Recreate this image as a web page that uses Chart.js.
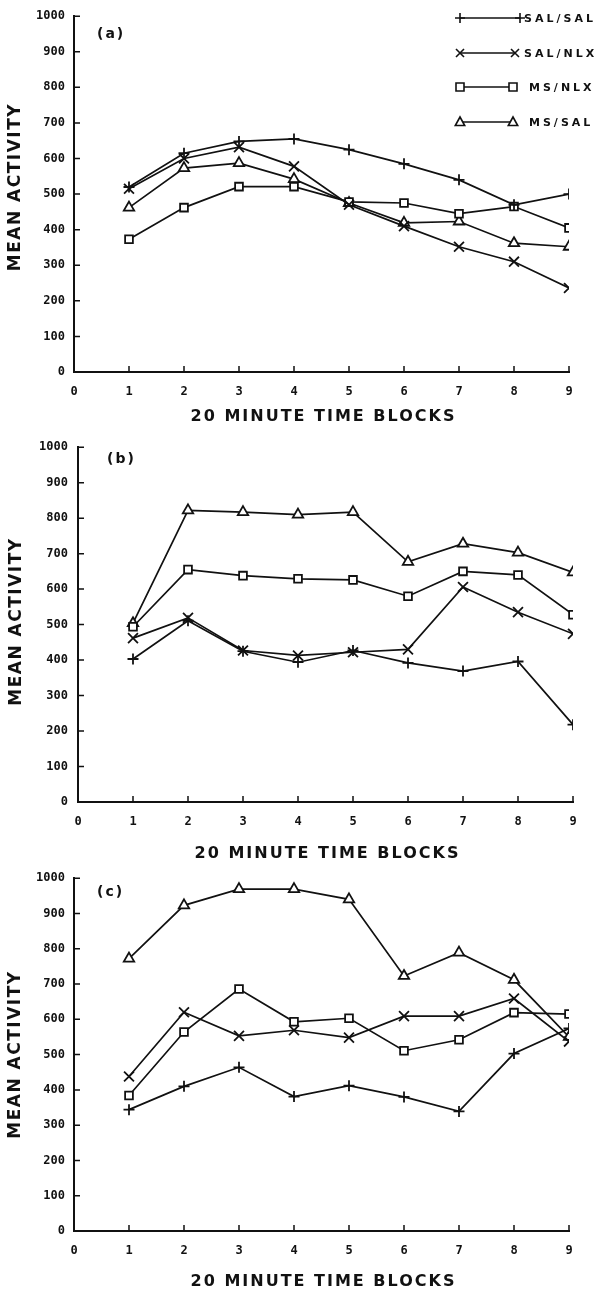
<!DOCTYPE html>
<html>
<head>
<meta charset="utf-8">
<script src="https://cdn.jsdelivr.net/npm/chart.js@4.4.1/dist/chart.umd.min.js"></script>
<style>
  body { margin: 0; background: #fff; }
  #page { position: relative; width: 601px; height: 1293px; background: #fff; }
  .panel { position: absolute; left: 0; width: 601px; }
</style>
</head>
<body>
<div id="page">
  <div class="panel" style="top:0"><canvas id="chartA" width="601" height="430"></canvas></div>
  <div class="panel" style="top:430px"><canvas id="chartB" width="601" height="432"></canvas></div>
  <div class="panel" style="top:862px"><canvas id="chartC" width="601" height="431"></canvas></div>
</div>
<script>
// categories + ticks
const blocks = [1, 2, 3, 4, 5, 6, 7, 8, 9];
const xTickValues = [0, 1, 2, 3, 4, 5, 6, 7, 8, 9];
const yTickValues = [0, 100, 200, 300, 400, 500, 600, 700, 800, 900, 1000];
const seriesNames = ["SAL/SAL", "SAL/NLX", "MS/NLX", "MS/SAL"];

// panel (a)
const aSalSal = [520, 615, 648, 655, 625, 585, 540, 470, 500];
const aSalNlx = [515, 600, 632, 578, 470, 410, 352, 310, 236];
const aMsNlx  = [373, 462, 521, 521, 478, 475, 445, 465, 405];
const aMsSal  = [462, 573, 587, 542, 475, 419, 423, 362, 352];

// panel (b)
const bSalSal = [403, 511, 425, 394, 427, 392, 369, 396, 218];
const bSalNlx = [462, 519, 427, 413, 422, 430, 606, 535, 474];
const bMsNlx  = [494, 655, 638, 629, 626, 580, 650, 640, 528];
const bMsSal  = [504, 822, 817, 810, 817, 677, 728, 703, 647];

// panel (c)
const cSalSal = [344, 410, 464, 381, 412, 380, 339, 503, 574];
const cSalNlx = [438, 620, 553, 569, 548, 609, 609, 659, 537];
const cMsNlx  = [384, 564, 686, 593, 603, 511, 542, 619, 615];
const cMsSal  = [772, 923, 969, 969, 940, 723, 789, 712, 550];

const INK = '#111';
const markerStyles = [
    { pointStyle: 'cross', radius: 5.5, fill: INK },
    { pointStyle: 'crossRot', radius: 7, fill: INK },
    { pointStyle: 'rect', radius: 5.5, fill: '#fff' },
    { pointStyle: 'triangle', radius: 6, fill: '#fff' }
];

function makeDatasets(lists) {
    return lists.map((vals, i) => ({
        label: seriesNames[i],
        data: blocks.map((b, j) => ({ x: b, y: vals[j] })),
        borderColor: INK,
        borderWidth: 1.7,
        tension: 0,
        pointStyle: markerStyles[i].pointStyle,
        pointRadius: markerStyles[i].radius,
        pointBorderWidth: 1.8,
        pointBorderColor: INK,
        pointBackgroundColor: markerStyles[i].fill
    }));
}

// small inward tick marks on both axes
const inwardTicks = {
    id: 'inwardTicks',
    beforeDatasetsDraw(chart) {
        const { ctx, chartArea, scales } = chart;
        ctx.save();
        ctx.strokeStyle = INK;
        ctx.lineWidth = 1.5;
        ctx.beginPath();
        xTickValues.forEach(v => {
            if (v === 0) return;
            const px = scales.x.getPixelForValue(v);
            ctx.moveTo(px, chartArea.bottom);
            ctx.lineTo(px, chartArea.bottom - 6);
        });
        yTickValues.forEach(v => {
            if (v === 0) return;
            const py = scales.y.getPixelForValue(v);
            ctx.moveTo(chartArea.left, py);
            ctx.lineTo(chartArea.left + 6, py);
        });
        ctx.stroke();
        ctx.restore();
    }
};

// axis titles + panel tag, drawn with letter spacing like the typewriter original
const panelText = {
    id: 'panelText',
    afterDraw(chart, args, opts) {
        const { ctx, chartArea } = chart;
        ctx.save();
        ctx.fillStyle = INK;
        ctx.textBaseline = 'middle';

        ctx.font = 'bold 16px "DejaVu Sans"';
        ctx.letterSpacing = '2px';
        ctx.textAlign = 'center';
        ctx.fillText('20 MINUTE TIME BLOCKS', (chartArea.left + chartArea.right) / 2 + 2, chartArea.bottom + opts.xTitleGap);

        ctx.save();
        ctx.font = 'bold 17px "DejaVu Sans"';
        ctx.letterSpacing = '1.5px';
        ctx.translate(opts.yTitleX, (chartArea.top + chartArea.bottom) / 2 + opts.yTitleShift);
        ctx.rotate(-Math.PI / 2);
        ctx.fillText('MEAN ACTIVITY', 0, 0);
        ctx.restore();

        ctx.font = 'bold 14px "DejaVu Sans"';
        ctx.letterSpacing = '2px';
        ctx.textAlign = 'left';
        ctx.fillText(opts.tag, opts.tagX, opts.tagY);
        ctx.restore();
    }
};

function drawMarker(ctx, style, x, y) {
    ctx.beginPath();
    if (style === 'cross') {
        ctx.moveTo(x - 5, y); ctx.lineTo(x + 5, y);
        ctx.moveTo(x, y - 5); ctx.lineTo(x, y + 5);
        ctx.stroke();
    } else if (style === 'crossRot') {
        ctx.moveTo(x - 4, y - 4); ctx.lineTo(x + 4, y + 4);
        ctx.moveTo(x - 4, y + 4); ctx.lineTo(x + 4, y - 4);
        ctx.stroke();
    } else if (style === 'rect') {
        ctx.rect(x - 4, y - 4, 8, 8);
        ctx.fill(); ctx.stroke();
    } else {
        ctx.moveTo(x, y - 5); ctx.lineTo(x + 4.7, y + 3.5); ctx.lineTo(x - 4.7, y + 3.5); ctx.closePath();
        ctx.fill(); ctx.stroke();
    }
}

// legend: line with a marker at each end, then the label
const lineLegend = {
    id: 'lineLegend',
    afterDraw(chart, args, opts) {
        if (!opts.show) return;
        const ctx = chart.ctx;
        const rows = [18, 53, 87, 122];
        const rightEnds = [520, 515, 513, 513];
        const textX = [524, 524, 529, 529];
        ctx.save();
        ctx.strokeStyle = INK;
        ctx.lineWidth = 1.6;
        seriesNames.forEach((name, i) => {
            const y = rows[i];
            ctx.fillStyle = '#fff';
            ctx.beginPath();
            ctx.moveTo(460, y); ctx.lineTo(rightEnds[i], y);
            ctx.stroke();
            drawMarker(ctx, markerStyles[i].pointStyle, 460, y);
            drawMarker(ctx, markerStyles[i].pointStyle, rightEnds[i], y);
            ctx.fillStyle = INK;
            ctx.font = 'bold 11px "DejaVu Sans"';
            ctx.letterSpacing = '3px';
            ctx.textAlign = 'left';
            ctx.textBaseline = 'middle';
            ctx.fillText(name, textX[i], y + 1);
        });
        ctx.restore();
    }
};

function buildChart(id, lists, box, text, showLegend) {
    const tickFont = { family: '"DejaVu Sans Mono"', weight: 'bold', size: 12 };
    return new Chart(document.getElementById(id), {
        type: 'line',
        data: { datasets: makeDatasets(lists) },
        options: {
            responsive: false,
            animation: false,
            layout: { padding: { top: box.top, right: box.right, left: 0, bottom: 0 } },
            plugins: {
                legend: { display: false },
                tooltip: { enabled: false },
                panelText: text,
                lineLegend: { show: showLegend }
            },
            scales: {
                x: {
                    type: 'linear',
                    min: 0, max: 9,
                    afterBuildTicks: s => { s.ticks = xTickValues.map(v => ({ value: v })); },
                    afterFit: s => { s.height = box.xHeight; },
                    grid: { display: false, drawTicks: false },
                    border: { display: true, color: INK, width: 2 },
                    ticks: { color: INK, font: tickFont, padding: 13, maxRotation: 0, callback: v => String(v) }
                },
                y: {
                    min: 0, max: 1000,
                    afterBuildTicks: s => { s.ticks = yTickValues.map(v => ({ value: v })); },
                    afterFit: s => { s.width = box.yWidth; },
                    grid: { display: false, drawTicks: false },
                    border: { display: true, color: INK, width: 2 },
                    ticks: { color: INK, font: tickFont, padding: box.yPad, callback: v => String(v) }
                }
            }
        },
        plugins: [inwardTicks, panelText, lineLegend]
    });
}

buildChart('chartA', [aSalSal, aSalNlx, aMsNlx, aMsSal],
    { top: 16, right: 32, xHeight: 58, yWidth: 74, yPad: 9 },
    { tag: '(a)', tagX: 97, tagY: 34, yTitleX: 16, yTitleShift: -7, xTitleGap: 45 }, true);

buildChart('chartB', [bSalSal, bSalNlx, bMsNlx, bMsSal],
    { top: 12, right: 28, xHeight: 60, yWidth: 78, yPad: 10 },
    { tag: '(b)', tagX: 107, tagY: 29, yTitleX: 17, yTitleShift: -3, xTitleGap: 52 }, false);

buildChart('chartC', [cSalSal, cSalNlx, cMsNlx, cMsSal],
    { top: 12, right: 32, xHeight: 62, yWidth: 74, yPad: 9 },
    { tag: '(c)', tagX: 97, tagY: 30, yTitleX: 16, yTitleShift: 0, xTitleGap: 51 }, false);
</script>
</body>
</html>
